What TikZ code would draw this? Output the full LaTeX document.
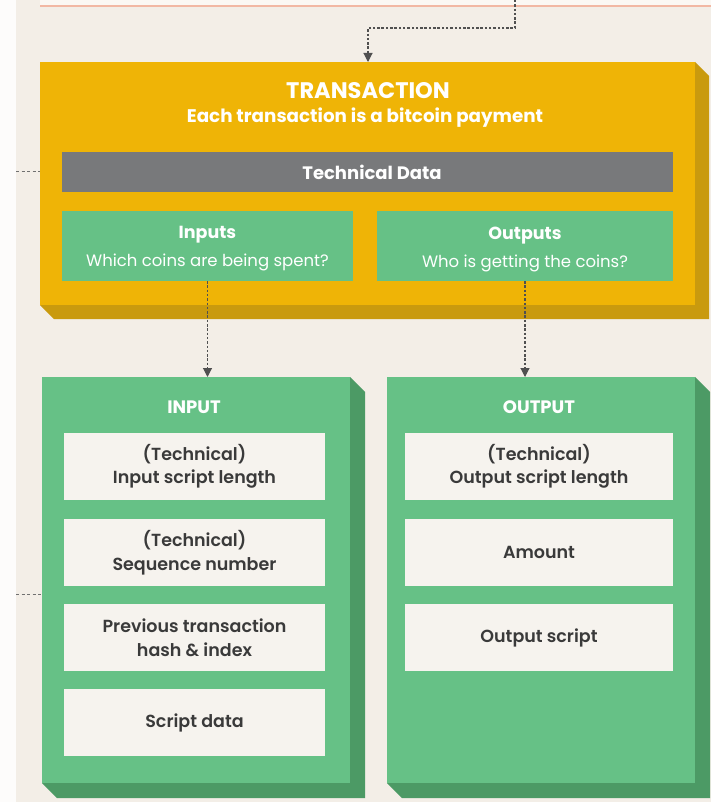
\documentclass[tikz,border=0pt]{standalone}
\usepackage{fontspec}
\setmainfont{Poppins}
\newfontfamily\medfont{Poppins}[UprightFont=*-SemiBold]
\usetikzlibrary{arrows.meta,calc}

\definecolor{paper}{HTML}{F3EEE7}
\definecolor{margin}{HTML}{FDFCFB}
\definecolor{stripfill}{HTML}{FBF8F4}
\definecolor{stripline}{HTML}{F2B8A4}
\definecolor{gold}{HTML}{EFB406}
\definecolor{golddark}{HTML}{C99A0E}
\definecolor{slate}{HTML}{78797B}
\definecolor{leaf}{HTML}{66C186}
\definecolor{leafdark}{HTML}{4C9A65}
\definecolor{card}{HTML}{F6F3EE}
\definecolor{ink}{HTML}{3A3A3A}
\definecolor{wire}{HTML}{505050}
\definecolor{wirelight}{HTML}{707070}

\tikzset{
  panel/.style={anchor=north west, inner sep=0pt, outer sep=0pt},
  txpanel/.style={panel, fill=gold},
  greenpanel/.style={panel, fill=leaf},
  bar/.style={panel, fill=slate},
  label/.style={text=white, inner sep=0pt, font=\bfseries\fontsize{18}{20}\selectfont},
  sublabel/.style={text=white, inner sep=0pt, align=center, font=\fontsize{16.5}{28}\selectfont},
  cardbox/.style={panel, fill=card, text=ink, align=center, font=\medfont\fontsize{17.5}{23.5}\selectfont},
  conn/.style={draw=wire, line width=1.1pt, dash pattern=on 2.5pt off 1.8pt,
    -{Triangle[width=9pt,length=9pt]}},
  stub/.style={draw=wirelight, line width=1pt, dash pattern=on 3pt off 2.5pt},
}

\begin{document}
\begin{tikzpicture}[x=1pt, y=-1pt]
  % canvas
  \fill[paper] (0,0) rectangle (711,802);
  \useasboundingbox (0,0) rectangle (711,802);
  \fill[margin] (0,0) rectangle (16,802);
  \fill[stripfill] (40,0) rectangle (711,6);
  \draw[stripline, line width=1.2pt] (40,6) -- (711,6);

  % transaction block
  \node[txpanel, minimum width=655pt, minimum height=243pt] (trans) at (40,62) {};
  \fill[golddark] (trans.north east) -- ++(14,14) -- ($(trans.south east)+(14,14)$)
    -- ($(trans.south west)+(14,14)$) -- (trans.south west) -- (trans.south east) -- cycle;
  \node[label, font=\bfseries\fontsize{22.5}{24}\selectfont] (title) at (368,91) {TRANSACTION};
  \node[label, font=\bfseries\fontsize{18.3}{20}\selectfont] (subtitle) at (365,118) {Each transaction is a bitcoin payment};
  \node[bar, minimum width=611pt, minimum height=40pt] (tech) at (62,152) {};
  \node[label] (techlabel) at (372,172) {Technical Data};
  \node[greenpanel, minimum width=291pt, minimum height=70pt] (inputs) at (62,211) {};
  \node[sublabel] (inputstext) at ($(inputs.center)+(0,3)$)
    {{\bfseries\fontsize{17.5}{20}\selectfont Inputs}\\Which coins are being spent?};
  \node[greenpanel, minimum width=296pt, minimum height=70pt] (outputs) at (377,211) {};
  \node[sublabel] (outputstext) at ($(outputs.center)+(0,3)$)
    {{\bfseries\fontsize{17.5}{20}\selectfont Outputs}\\Who is getting the coins?};

  % input block
  \node[greenpanel, minimum width=308pt, minimum height=406pt] (inbox) at (42,377) {};
  \fill[leafdark] (inbox.north east) -- ++(15,15) -- ($(inbox.south east)+(15,15)$)
    -- ($(inbox.south west)+(15,15)$) -- (inbox.south west) -- (inbox.south east) -- cycle;
  \node[label] (inhead) at (194,407) {INPUT};
  \node[cardbox, minimum width=261pt, minimum height=67pt] (in1) at (64,433) {(Technical)\\Input script length};
  \node[cardbox, minimum width=261pt, minimum height=67pt] (in2) at (64,519) {(Technical)\\Sequence number};
  \node[cardbox, minimum width=261pt, minimum height=67pt] (in3) at (64,604) {Previous transaction\\hash \& index};
  \node[cardbox, minimum width=261pt, minimum height=67pt] (in4) at (64,689) {Script data};

  % output block
  \node[greenpanel, minimum width=308pt, minimum height=406pt] (outbox) at (387,377) {};
  \fill[leafdark] (outbox.north east) -- ++(15,15) -- ($(outbox.south east)+(15,15)$)
    -- ($(outbox.south west)+(15,15)$) -- (outbox.south west) -- (outbox.south east) -- cycle;
  \node[label] (outhead) at (539,407) {OUTPUT};
  \node[cardbox, minimum width=268pt, minimum height=67pt] (out1) at (405,433) {(Technical)\\Output script length};
  \node[cardbox, minimum width=268pt, minimum height=67pt] (out2) at (405,519) {Amount};
  \node[cardbox, minimum width=268pt, minimum height=67pt] (out3) at (405,604) {Output script};

  % connectors
  \coordinate (src) at (515,0);
  \coordinate (bend) at (368,28);
  \draw[conn] (src) |- (bend) -- (bend |- trans.north);
  \draw[conn] (inputs.south) -- (inputs.south |- inbox.north);
  \draw[conn] (outputs.south) -- (outputs.south |- outbox.north);
  \coordinate (leftA) at (16,172);
  \coordinate (leftB) at (16,594);
  \draw[stub] (leftA) -- (leftA -| trans.west);
  \draw[stub] (leftB) -- (leftB -| inbox.west);
\end{tikzpicture}
\end{document}
